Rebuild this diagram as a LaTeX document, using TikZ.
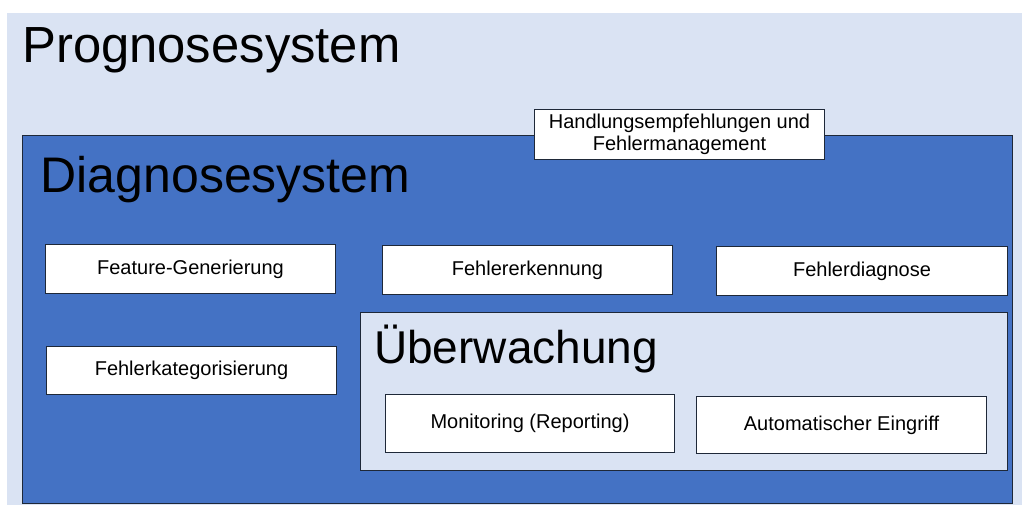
\documentclass[tikz,border=0pt]{standalone}
\usepackage{fontspec}
\setmainfont{Liberation Sans}
\definecolor{paleblue}{HTML}{DAE3F3}
\definecolor{midblue}{HTML}{4472C4}
\definecolor{edge}{HTML}{1E2838}
\tikzset{
  frame/.style={draw=edge, line width=1pt, anchor=north west, inner sep=0pt},
  box/.style={frame, fill=white, font=\fontsize{20}{21.5}\selectfont, align=center},
  title/.style={anchor=base west, inner sep=0pt, font=\fontsize{50}{56}\selectfont},
}
\begin{document}
\begin{tikzpicture}[x=1pt, y=-1pt]
  \useasboundingbox (0,0) rectangle (1022,505);
  \fill[white] (0,0) rectangle (1022,505);
  % outer system
  \node[anchor=north west, fill=paleblue, inner sep=0pt, minimum width=1015pt, minimum height=492pt] (prog) at (7,13) {};
  \node[title, font=\fontsize{50.8}{56}\selectfont] (progT) at (22,63) {Prognosesystem};
  % diagnosis system
  \node[frame, fill=midblue, minimum width=990pt, minimum height=368pt] (diag) at (22,135) {};
  \node[title] (diagT) at (40.5,193) {Diagnosesystem};
  \node[box, minimum width=290pt, minimum height=50pt] (hand) at (534,109)
    {Handlungsempfehlungen und\\Fehlermanagement};
  \node[box, minimum width=290pt, minimum height=49pt] (feat) at (45,244) {Feature-Generierung};
  \node[box, minimum width=290pt, minimum height=49pt] (erk) at (382,245) {Fehlererkennung};
  \node[box, minimum width=291pt, minimum height=49pt] (dia) at (716,246) {Fehlerdiagnose};
  \node[box, minimum width=290pt, minimum height=48pt] (kat) at (46,346) {Fehlerkategorisierung};
  % monitoring group
  \node[frame, fill=paleblue, minimum width=647pt, minimum height=158pt] (ueb) at (360,312) {};
  \node[title, font=\fontsize{46}{52}\selectfont] (uebT) at (374,363) {Überwachung};
  \node[box, minimum width=289pt, minimum height=58pt] (mon) at (385,394) {Monitoring (Reporting)};
  \node[box, minimum width=290pt, minimum height=57pt] (auto) at (696,396) {Automatischer Eingriff};
\end{tikzpicture}
\end{document}
